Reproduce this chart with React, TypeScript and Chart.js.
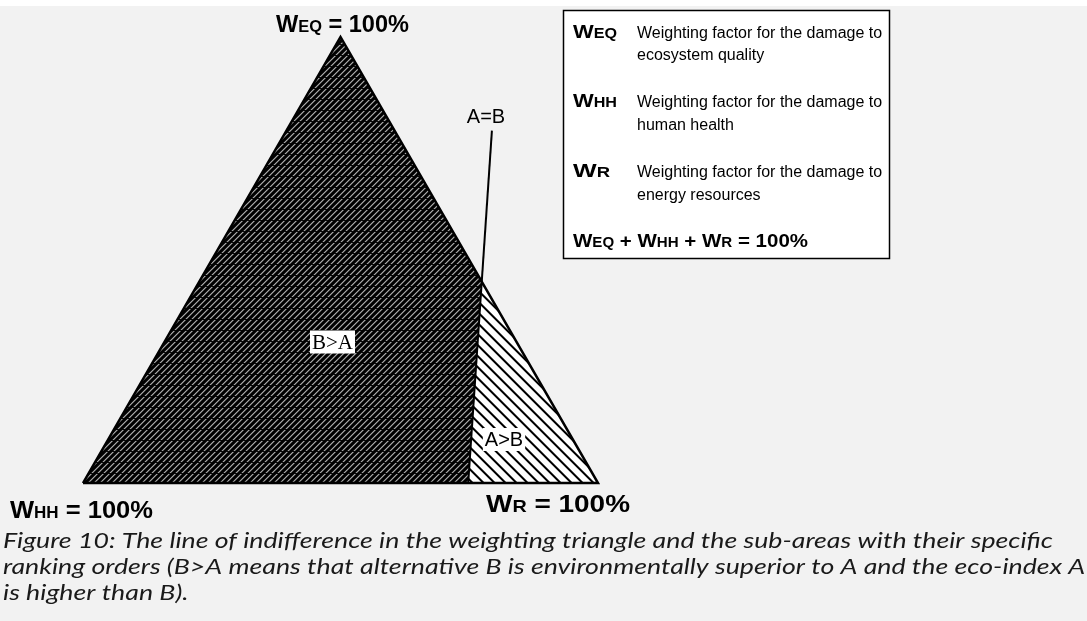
import React, { useEffect, useRef } from 'react';
import { Chart, registerables } from 'chart.js';

Chart.register(...registerables);

// ---------- data (ternary coordinates in %: [W_EQ, W_HH, W_R]) ----------
const vertexEQ = [100, 0, 0];
const vertexHH = [0, 100, 0];
const vertexR = [0, 0, 100];
const lineTop = [79, -18.9, 39.9]; // upper end of A=B line (outside triangle)
const lineCross = [45, 0, 55]; // A=B line crossing the right edge
const lineBase = [0, 25.2, 74.8]; // A=B line meeting the base

const vertexLabelEQ = [{ t: 'W', big: true }, { t: 'EQ', big: false }, { t: ' = 100%', big: true }];
const vertexLabelHH = [{ t: 'W', big: true }, { t: 'HH', big: false }, { t: ' = 100%', big: true }];
const vertexLabelR = [{ t: 'W', big: true }, { t: 'R', big: false }, { t: ' = 100%', big: true }];

const regionLabels = ['B>A', 'A>B', 'A=B'];

const legendKeys = [
  [{ t: 'W', big: true }, { t: 'EQ', big: false }],
  [{ t: 'W', big: true }, { t: 'HH', big: false }],
  [{ t: 'W', big: true }, { t: 'R', big: false }],
];
const legendTexts = [
  ['Weighting factor for the damage to', 'ecosystem quality'],
  ['Weighting factor for the damage to', 'human health'],
  ['Weighting factor for the damage to', 'energy resources'],
];
const legendSum = [
  { t: 'W', big: true }, { t: 'EQ', big: false }, { t: ' + ', big: true },
  { t: 'W', big: true }, { t: 'HH', big: false }, { t: ' + ', big: true },
  { t: 'W', big: true }, { t: 'R', big: false }, { t: ' = 100%', big: true },
];

const captionLines = [
  'Figure 10: The line of indifference in the weighting triangle and the sub-areas with their specific',
  'ranking orders (B>A means that alternative B is environmentally superior to A and the eco-index A',
  'is higher than B).',
];

// ---------- layout ----------
const W = 1087;
const H = 621;
const BASE_LEFT = 83;
const UNIT = 515;
const BASE_Y = 483;

const toXY = (p: number[]) => ({ x: p[2] / 100 + p[0] / 200, y: (p[0] / 100) * (Math.sqrt(3) / 2) });

function makeDarkPattern(): CanvasPattern | string {
  const c = document.createElement('canvas');
  const s = 66;
  c.width = s; c.height = s;
  const ctx = c.getContext('2d')!;
  const img = ctx.createImageData(s, s);
  for (let y = 0; y < s; y++) {
    for (let x = 0; x < s; x++) {
      const k = (x + y) % 6;
      let v = 0;
      if (k === 0) v = 165;
      else if (k === 1) v = 80;
      else if (k === 5) v = 35;
      if (y % 11 === 0) v = Math.min(v, 10);
      const i = (y * s + x) * 4;
      img.data[i] = v; img.data[i + 1] = v; img.data[i + 2] = v; img.data[i + 3] = 255;
    }
  }
  ctx.putImageData(img, 0, 0);
  return ctx.createPattern(c, 'repeat') || '#333';
}

function makeLightPattern(): CanvasPattern | string {
  const c = document.createElement('canvas');
  const s = 11;
  c.width = s; c.height = s;
  const ctx = c.getContext('2d')!;
  const img = ctx.createImageData(s, s);
  for (let y = 0; y < s; y++) {
    for (let x = 0; x < s; x++) {
      const k = (((x - y) % s) + s) % s;
      let v = 255;
      if (k === 0 || k === 1) v = 0;
      else if (k === 2) v = 110;
      else if (k === 10) v = 170;
      const i = (y * s + x) * 4;
      img.data[i] = v; img.data[i + 1] = v; img.data[i + 2] = v; img.data[i + 3] = 255;
    }
  }
  ctx.putImageData(img, 0, 0);
  return ctx.createPattern(c, 'repeat') || '#fff';
}

type Part = { t: string; big: boolean };
const SANS = '"Liberation Sans", Arial, sans-serif';

function drawMixed(ctx: CanvasRenderingContext2D, parts: Part[], x: number, baseline: number,
  bigSize: number, smallSize: number, targetWidth?: number) {
  let w = 0;
  for (const p of parts) {
    ctx.font = `bold ${p.big ? bigSize : smallSize}px ${SANS}`;
    w += ctx.measureText(p.t).width;
  }
  const sx = targetWidth ? targetWidth / w : 1;
  ctx.save();
  ctx.translate(x, baseline);
  ctx.scale(sx, 1);
  ctx.textAlign = 'left';
  ctx.textBaseline = 'alphabetic';
  let cx = 0;
  for (const p of parts) {
    ctx.font = `bold ${p.big ? bigSize : smallSize}px ${SANS}`;
    ctx.fillText(p.t, cx, 0);
    cx += ctx.measureText(p.t).width;
  }
  ctx.restore();
}

function boxedLabel(ctx: CanvasRenderingContext2D, text: string, cx: number, cy: number, font: string, box: boolean) {
  ctx.save();
  ctx.font = font;
  ctx.textAlign = 'center';
  ctx.textBaseline = 'middle';
  const m = ctx.measureText(text);
  if (box) {
    ctx.fillStyle = '#ffffff';
    const bw = m.width + 4;
    const bh = 23;
    ctx.fillRect(cx - bw / 2, cy - bh / 2, bw, bh);
  }
  ctx.fillStyle = '#000';
  ctx.fillText(text, cx, cy + 1);
  ctx.restore();
}

const backgroundPlugin = {
  id: 'bg',
  beforeDraw(chart: Chart) {
    const ctx = chart.ctx;
    ctx.save();
    ctx.fillStyle = '#ffffff';
    ctx.fillRect(0, 0, W, H);
    ctx.fillStyle = '#f2f2f2';
    ctx.fillRect(0, 6, W, H - 6);
    ctx.restore();
  },
};

const textPlugin = {
  id: 'texts',
  afterDraw(chart: Chart) {
    const ctx = chart.ctx;
    ctx.save();
    ctx.fillStyle = '#000';
    // vertex labels
    drawMixed(ctx, vertexLabelEQ, 276, 32, 23, 16, 133);
    drawMixed(ctx, vertexLabelHH, 10, 518, 24, 16, 143);
    drawMixed(ctx, vertexLabelR, 486, 512, 24, 17, 144);

    // region labels
    boxedLabel(ctx, regionLabels[0], 332.5, 342, `21px "Liberation Serif", "Times New Roman", serif`, true);
    boxedLabel(ctx, regionLabels[1], 504, 439.5, `20px ${SANS}`, true);
    boxedLabel(ctx, regionLabels[2], 486, 116, `20px ${SANS}`, false);

    // legend box
    ctx.fillStyle = '#ffffff';
    ctx.fillRect(563, 10, 326, 248);
    ctx.strokeStyle = '#000';
    ctx.lineWidth = 1.5;
    ctx.strokeRect(563.5, 10.5, 326, 248);
    ctx.fillStyle = '#000';
    const baselines = [[38, 60], [107, 130], [177, 200]];
    const keyWidths = [44, 44, 37];
    for (let i = 0; i < 3; i++) {
      drawMixed(ctx, legendKeys[i], 573, baselines[i][0], 19, 14, keyWidths[i]);
      ctx.font = `16px ${SANS}`;
      ctx.textAlign = 'left';
      ctx.textBaseline = 'alphabetic';
      ctx.fillText(legendTexts[i][0], 637, baselines[i][0]);
      ctx.fillText(legendTexts[i][1], 637, baselines[i][1]);
    }
    drawMixed(ctx, legendSum, 573, 247, 19, 14, 235);

    // caption
    ctx.fillStyle = '#1a1a1a';
    const capFont = `italic 21px Lato, "Open Sans", sans-serif`;
    ctx.font = capFont;
    const sx = 1050 / ctx.measureText(captionLines[0]).width;
    const capBase = [548, 574, 600];
    for (let i = 0; i < captionLines.length; i++) {
      ctx.save();
      ctx.translate(3, capBase[i]);
      ctx.scale(sx, 1);
      ctx.font = capFont;
      ctx.textAlign = 'left';
      ctx.fillText(captionLines[i], 0, 0);
      ctx.restore();
    }
    ctx.restore();
  },
};

export default function App() {
  const ref = useRef<HTMLCanvasElement | null>(null);

  useEffect(() => {
    document.body.style.margin = '0';
    document.body.style.background = '#f2f2f2';
    const canvas = ref.current;
    if (!canvas) return;

    const darkPattern = makeDarkPattern();
    const lightPattern = makeLightPattern();

    const regionBA = [vertexHH, vertexEQ, lineCross, lineBase, vertexHH].map(toXY);
    const regionAB = [lineBase, lineCross, vertexR, lineBase].map(toXY);
    const outline = [vertexHH, vertexEQ, vertexR, vertexHH].map(toXY);
    const indifference = [lineTop, lineBase].map(toXY);

    const chart = new Chart(canvas, {
      type: 'scatter',
      data: {
        datasets: [
          { data: indifference, showLine: true, borderColor: '#000', borderWidth: 2, pointRadius: 0, fill: false },
          { data: outline, showLine: true, borderColor: '#000', borderWidth: 2.5, pointRadius: 0, fill: false, borderJoinStyle: 'miter' },
          { data: regionAB, showLine: true, borderWidth: 0, borderColor: 'rgba(0,0,0,0)', backgroundColor: lightPattern as any, pointRadius: 0, fill: 'shape' },
          { data: regionBA, showLine: true, borderWidth: 0, borderColor: 'rgba(0,0,0,0)', backgroundColor: darkPattern as any, pointRadius: 0, fill: 'shape' },
        ],
      },
      options: {
        animation: false,
        responsive: false,
        events: [],
        layout: { padding: 0 },
        scales: {
          x: { type: 'linear', display: false, min: -BASE_LEFT / UNIT, max: (W - BASE_LEFT) / UNIT },
          y: { type: 'linear', display: false, min: -(H - BASE_Y) / UNIT, max: BASE_Y / UNIT },
        },
        plugins: {
          legend: { display: false },
          tooltip: { enabled: false },
          filler: { propagate: false },
        },
      },
      plugins: [backgroundPlugin, textPlugin],
    });
    return () => chart.destroy();
  }, []);

  return (
    <div style={{ position: 'relative', width: W, height: H }}>
      <canvas ref={ref} width={W} height={H} style={{ display: 'block', width: W, height: H }} />
    </div>
  );
}
